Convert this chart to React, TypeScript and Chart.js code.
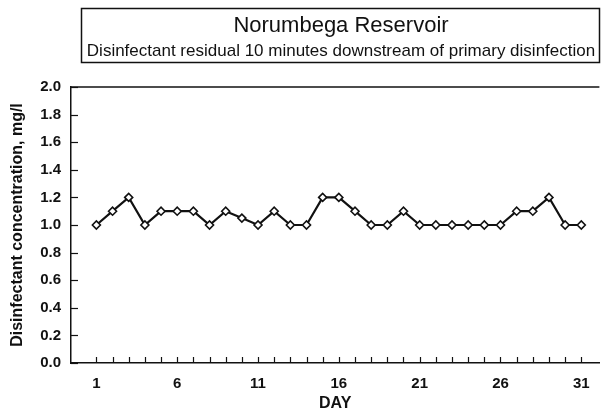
import React, { useEffect, useRef } from "react";
import { Chart, registerables } from "chart.js";

Chart.register(...registerables);

const days = [1, 2, 3, 4, 5, 6, 7, 8, 9, 10, 11, 12, 13, 14, 15, 16, 17, 18, 19, 20, 21, 22, 23, 24, 25, 26, 27, 28, 29, 30, 31];
const residual = [1.0, 1.1, 1.2, 1.0, 1.1, 1.1, 1.1, 1.0, 1.1, 1.05, 1.0, 1.1, 1.0, 1.0, 1.2, 1.2, 1.1, 1.0, 1.0, 1.1, 1.0, 1.0, 1.0, 1.0, 1.0, 1.0, 1.1, 1.1, 1.2, 1.0, 1.0];
const xLabelDays = [1, 6, 11, 16, 21, 26, 31];
const yTickValues = [0, 0.2, 0.4, 0.6, 0.8, 1.0, 1.2, 1.4, 1.6, 1.8, 2.0];
const titleText = "Norumbega Reservoir";
const subtitleText = "Disinfectant residual 10 minutes downstream of primary disinfection";
const yAxisTitle = "Disinfectant concentration, mg/l";
const xAxisTitle = "DAY";

const FONT = "'Liberation Sans', Arial, Helvetica, sans-serif";

const framePlugin = {
  id: "frame",
  afterDraw(chart: any) {
    const ctx = chart.ctx;
    const area = chart.chartArea;
    const xs = chart.scales.x;
    const ys = chart.scales.y;
    ctx.save();
    ctx.strokeStyle = "#111";
    ctx.lineWidth = 1.5;
    ctx.beginPath();
    ctx.moveTo(area.left, area.top);
    ctx.lineTo(area.right, area.top);
    ctx.stroke();
    ctx.lineWidth = 1.2;
    days.forEach((d) => {
      const px = Math.round(xs.getPixelForValue(d)) + 0.5;
      ctx.beginPath();
      ctx.moveTo(px, area.bottom);
      ctx.lineTo(px, area.bottom - 6);
      ctx.stroke();
    });
    yTickValues.forEach((v) => {
      const py = Math.round(ys.getPixelForValue(v)) + 0.5;
      ctx.beginPath();
      ctx.moveTo(area.left, py);
      ctx.lineTo(area.left + 7, py);
      ctx.stroke();
    });
    ctx.lineWidth = 1.5;
    ctx.strokeRect(81.5, 8.5, 518, 54);
    ctx.fillStyle = "#111";
    ctx.textAlign = "center";
    ctx.textBaseline = "alphabetic";
    ctx.font = `22px ${FONT}`;
    ctx.fillText(titleText, 341, 32);
    ctx.font = `17px ${FONT}`;
    ctx.fillText(subtitleText, 341, 56);
    ctx.restore();
  },
};

export default function App() {
  const canvasRef = useRef<HTMLCanvasElement | null>(null);

  useEffect(() => {
    if (!canvasRef.current) return;
    const chart = new Chart(canvasRef.current, {
      type: "line",
      data: {
        datasets: [
          {
            data: days.map((d, i) => ({ x: d, y: residual[i] })),
            borderColor: "#111",
            borderWidth: 2.2,
            pointStyle: "rectRot",
            pointRadius: 4,
            pointBorderWidth: 1.6,
            pointBackgroundColor: "#fff",
            pointBorderColor: "#111",
            tension: 0,
          },
        ],
      },
      options: {
        responsive: false,
        animation: false,
        layout: { padding: { top: 87, left: 0, right: 0, bottom: 0 } },
        plugins: {
          legend: { display: false },
          title: { display: false },
          tooltip: { enabled: false },
        },
        scales: {
          x: {
            type: "linear",
            min: -0.57,
            max: 32.12,
            grid: { display: false },
            border: { display: true, color: "#111", width: 1.5 },
            afterBuildTicks: (scale: any) => {
              scale.ticks = xLabelDays.map((v) => ({ value: v }));
            },
            afterFit: (scale: any) => {
              scale.height = 50;
            },
            ticks: {
              autoSkip: false,
              maxRotation: 0,
              padding: 4,
              color: "#111",
              font: { family: FONT, size: 15, weight: "bold" },
              callback: (v: any) => String(v),
            },
            title: {
              display: true,
              text: xAxisTitle,
              color: "#111",
              padding: 0,
              font: { family: FONT, size: 16, weight: "bold" },
            },
          },
          y: {
            type: "linear",
            min: 0,
            max: 2,
            grid: { display: false },
            border: { display: true, color: "#111", width: 1.5 },
            afterBuildTicks: (scale: any) => {
              scale.ticks = yTickValues.map((v) => ({ value: v }));
            },
            afterFit: (scale: any) => {
              scale.width = 71;
            },
            ticks: {
              padding: 2,
              color: "#111",
              font: { family: FONT, size: 15, weight: "bold" },
              callback: (v: any) => Number(v).toFixed(1),
            },
            title: {
              display: true,
              text: yAxisTitle,
              color: "#111",
              padding: { top: 8, bottom: 0 },
              font: { family: FONT, size: 16, weight: "bold" },
            },
          },
        },
      },
      plugins: [framePlugin],
    } as any);
    return () => chart.destroy();
  }, []);

  return (
    <div style={{ position: "fixed", left: 0, top: 0, width: 605, height: 413, background: "#fff" }}>
      <canvas ref={canvasRef} width={605} height={413} />
    </div>
  );
}
